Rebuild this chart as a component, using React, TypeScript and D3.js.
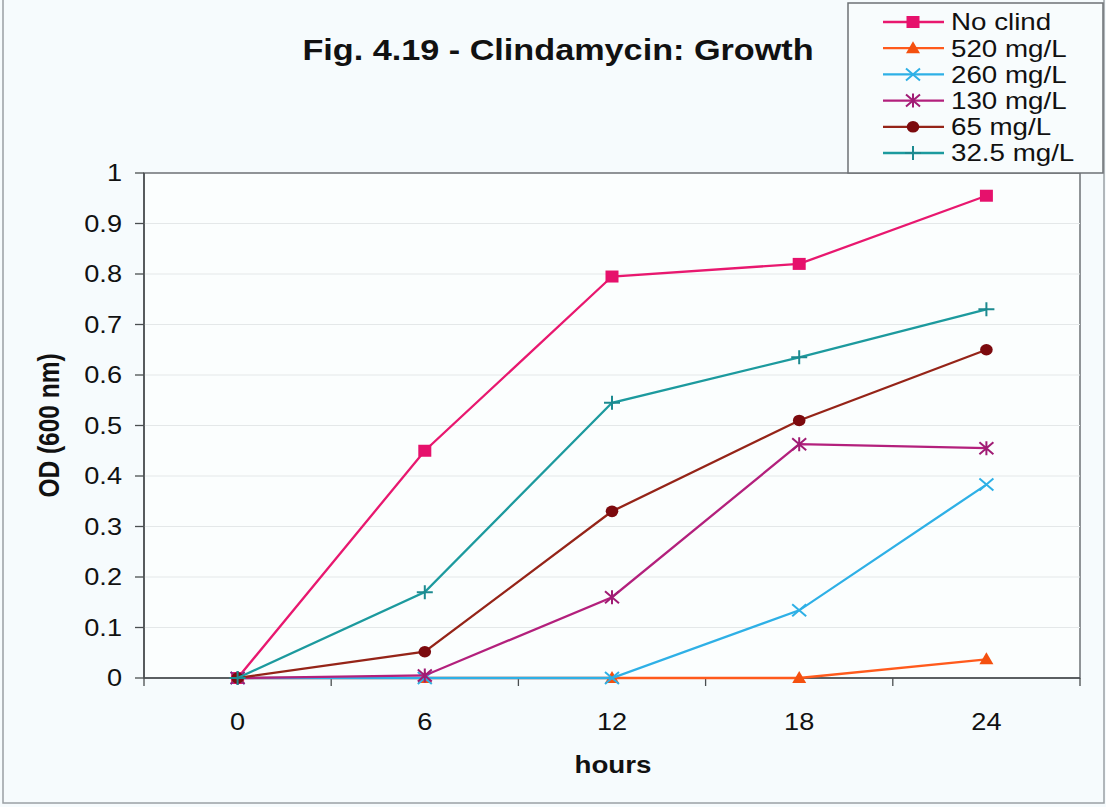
import React from "react";
import * as d3 from "d3";

// Sampling times (hours) and optical density readings per clindamycin dose
const hours = ["0", "6", "12", "18", "24"];
const noClind = [0, 0.45, 0.795, 0.82, 0.955];
const mg520 = [0, 0, 0, 0, 0.037];
const mg260 = [0, 0, 0, 0.134, 0.383];
const mg130 = [0, 0.005, 0.16, 0.463, 0.455];
const mg65 = [0, 0.052, 0.33, 0.51, 0.65];
const mg32 = [0, 0.17, 0.545, 0.635, 0.73];
const yTicks = [0, 0.1, 0.2, 0.3, 0.4, 0.5, 0.6, 0.7, 0.8, 0.9, 1];

type Marker = "square" | "triangle" | "x" | "asterisk" | "circle" | "plus";

const series: { name: string; values: number[]; line: string; fill: string; marker: Marker }[] = [
  { name: "No clind", values: noClind, line: "#e8186f", fill: "#e6116c", marker: "square" },
  { name: "520 mg/L", values: mg520, line: "#ff5a1c", fill: "#f4500f", marker: "triangle" },
  { name: "260 mg/L", values: mg260, line: "#2eb0e6", fill: "#2eb0e6", marker: "x" },
  { name: "130 mg/L", values: mg130, line: "#b3207c", fill: "#a01c74", marker: "asterisk" },
  { name: "65 mg/L", values: mg65, line: "#952418", fill: "#7c0a0e", marker: "circle" },
  { name: "32.5 mg/L", values: mg32, line: "#1c9a9e", fill: "#1c8a90", marker: "plus" },
];

const W = 1106;
const H = 807;
const plot = { left: 144, right: 1080, top: 173, bottom: 678 };
const FONT = "'Liberation Sans', Arial, Helvetica, sans-serif";
// the whole figure is drawn slightly wider than tall, so glyphs get a horizontal stretch
const SX = 1.18;

function Label({
  x,
  y,
  size,
  anchor = "start",
  bold = false,
  dy,
  children,
}: {
  x: number;
  y: number;
  size: number;
  anchor?: "start" | "middle" | "end";
  bold?: boolean;
  dy?: string;
  children: React.ReactNode;
}) {
  return (
    <text
      transform={`translate(${x},${y}) scale(${SX},1)`}
      dy={dy}
      textAnchor={anchor}
      fontSize={size}
      fontWeight={bold ? "bold" : "normal"}
      fill="#111"
    >
      {children}
    </text>
  );
}

function MarkerShape({ type, x, y, line, fill }: { type: Marker; x: number; y: number; line: string; fill: string }) {
  const s = 6;
  switch (type) {
    case "square":
      return <rect x={x - s - 0.5} y={y - s} width={2 * s + 1} height={2 * s} fill={fill} />;
    case "triangle":
      return <path d={`M${x},${y - 7}L${x + 7},${y + 5}L${x - 7},${y + 5}Z`} fill={fill} />;
    case "circle":
      return <ellipse cx={x} cy={y} rx={6.3} ry={5.8} fill={fill} />;
    case "x":
      return (
        <path d={`M${x - s - 1},${y - s}L${x + s + 1},${y + s}M${x - s - 1},${y + s}L${x + s + 1},${y - s}`} stroke={line} strokeWidth={2} />
      );
    case "asterisk":
      return (
        <path
          d={`M${x - s - 1},${y - s}L${x + s + 1},${y + s}M${x - s - 1},${y + s}L${x + s + 1},${y - s}M${x},${y - s - 1}L${x},${y + s + 1}`}
          stroke={fill}
          strokeWidth={2}
        />
      );
    case "plus":
      return <path d={`M${x - s - 2},${y}L${x + s + 2},${y}M${x},${y - s - 1}L${x},${y + s + 1}`} stroke={fill} strokeWidth={2} />;
  }
}

export default function App() {
  const x = d3.scaleBand<string>().domain(hours).range([plot.left, plot.right]).paddingInner(0).paddingOuter(0);
  const y = d3.scaleLinear().domain([0, 1]).range([plot.bottom, plot.top]);
  const cx = (h: string) => (x(h) as number) + x.bandwidth() / 2;
  const lineGen = d3
    .line<number>()
    .x((_, i) => cx(hours[i]))
    .y((v) => y(v));

  const boundaries = hours.map((h) => x(h) as number).concat([plot.right]);

  const legend = { x: 848, y: 3, w: 255, h: 170, rowY0: 22, rowStep: 26.2 };

  return (
    <svg
      width={W}
      height={H}
      viewBox={`0 0 ${W} ${H}`}
      style={{ position: "absolute", left: 0, top: 0, display: "block" }}
      fontFamily={FONT}
    >
      <rect x={0} y={0} width={W} height={H} fill="#f6fbfd" />
      <rect x={3} y={-2} width={W - 5} height={H - 2} fill="none" stroke="#9aa0a4" strokeWidth={1.5} />

      {/* plot area */}
      <rect x={plot.left} y={plot.top} width={plot.right - plot.left} height={plot.bottom - plot.top} fill="#fbfefe" stroke="#6d7275" strokeWidth={1.5} />

      {/* gridlines */}
      {yTicks.slice(1, -1).map((t) => (
        <line key={`g${t}`} x1={plot.left} x2={plot.right} y1={y(t)} y2={y(t)} stroke="#e4e8e9" strokeWidth={1} />
      ))}

      {/* y axis */}
      <line x1={plot.left} x2={plot.left} y1={plot.top} y2={plot.bottom} stroke="#4a4e50" strokeWidth={1.6} />
      {yTicks.map((t) => (
        <g key={`y${t}`}>
          <line x1={plot.left - 9} x2={plot.left} y1={y(t)} y2={y(t)} stroke="#4a4e50" strokeWidth={1.3} />
          <Label x={122} y={y(t)} dy="0.36em" anchor="end" size={23}>
            {d3.format("~g")(t)}
          </Label>
        </g>
      ))}

      {/* x axis */}
      <line x1={plot.left} x2={plot.right} y1={plot.bottom} y2={plot.bottom} stroke="#4a4e50" strokeWidth={1.6} />
      {boundaries.map((b, i) => (
        <line key={`xt${i}`} x1={b} x2={b} y1={plot.bottom} y2={plot.bottom + 8} stroke="#4a4e50" strokeWidth={1.3} />
      ))}
      {hours.map((h) => (
        <Label key={`xl${h}`} x={cx(h)} y={730} anchor="middle" size={23}>
          {h}
        </Label>
      ))}

      {/* series */}
      {series.map((s) => (
        <g key={s.name}>
          <path d={lineGen(s.values) as string} fill="none" stroke={s.line} strokeWidth={2.3} />
          {s.values.map((v, i) => (
            <MarkerShape key={i} type={s.marker} x={cx(hours[i])} y={y(v)} line={s.line} fill={s.fill} />
          ))}
        </g>
      ))}

      {/* titles */}
      <Label x={558} y={60} anchor="middle" size={29} bold>
        Fig. 4.19 - Clindamycin: Growth
      </Label>
      <Label x={613} y={773} anchor="middle" size={23.5} bold>
        hours
      </Label>
      <text
        transform={`translate(59,${(plot.top + plot.bottom) / 2}) rotate(-90) scale(1,${SX})`}
        textAnchor="middle"
        fontSize={24.5}
        fontWeight="bold"
        fill="#111"
      >
        OD (600 nm)
      </text>

      {/* legend */}
      <rect x={legend.x} y={legend.y} width={legend.w} height={legend.h} fill="#f8fcfd" stroke="#6d7275" strokeWidth={1.5} />
      {series.map((s, i) => {
        const ry = legend.rowY0 + i * legend.rowStep;
        return (
          <g key={`lg${s.name}`}>
            <line x1={883} x2={944} y1={ry} y2={ry} stroke={s.line} strokeWidth={2.3} />
            <MarkerShape type={s.marker} x={913} y={ry} line={s.line} fill={s.fill} />
            <Label x={951} y={ry} dy="0.36em" size={23.5}>
              {s.name}
            </Label>
          </g>
        );
      })}
    </svg>
  );
}
